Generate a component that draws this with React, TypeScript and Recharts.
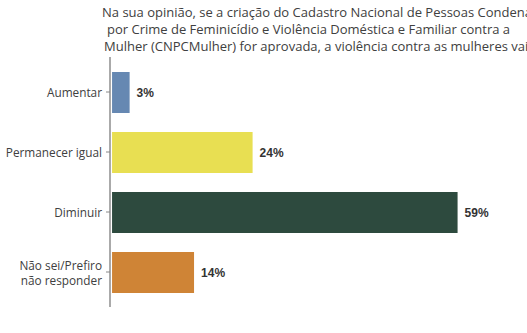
import React from 'react';
import { BarChart, Bar, XAxis, YAxis, Cell, LabelList } from 'recharts';

const categories = ['Aumentar', 'Permanecer igual', 'Diminuir', 'Não sei/Prefiro\nnão responder'];
const values = [3, 24, 59, 14];
const colors = ['#6688B2', '#E8DF52', '#2D4A3E', '#CF8436'];
const titleLines = [
  'Na sua opinião, se a criação do Cadastro Nacional de Pessoas Condenadas',
  'por Crime de Feminicídio e Violência Doméstica e Familiar contra a',
  'Mulher (CNPCMulher) for aprovada, a violência contra as mulheres vai:',
];
const titleX = [102, 107, 104];

const data = categories.map((c, i) => ({ name: c, value: values[i] }));
const FONT = "'Open Sans', sans-serif";

const Tick = (props: any) => {
  const { x, y, payload } = props;
  const lines = String(payload.value).split('\n');
  const lh = 15;
  const y0 = y - ((lines.length - 1) * lh) / 2;
  return (
    <text x={x} y={y0} textAnchor="end" fill="#404040" fontSize={11.8} fontFamily={FONT} dominantBaseline="central">
      {lines.map((l, i) => (
        <tspan key={i} x={x} y={y0 + i * lh} dominantBaseline="central">{l}</tspan>
      ))}
    </text>
  );
};

export default function App() {
  return (
    <div style={{ position: 'absolute', left: 0, top: 0, width: 527, height: 333, overflow: 'hidden', background: '#fff' }}>
      {titleLines.map((t, i) => (
        <div key={i} style={{ position: 'absolute', left: titleX[i], top: 4 + i * 17, whiteSpace: 'nowrap', fontFamily: FONT, fontSize: 13, color: '#404040', lineHeight: '17px' }}>{t}</div>
      ))}
      <BarChart width={527} height={333} data={data} layout="vertical" margin={{ top: 57, right: 5, bottom: 26, left: 0 }}>
        <XAxis type="number" domain={[-0.35, 70]} hide />
        <YAxis
          type="category"
          dataKey="name"
          width={110}
          tick={<Tick />}
          tickSize={4}
          tickMargin={4}
          axisLine={{ stroke: '#AAAAAA', strokeWidth: 2 }}
          tickLine={{ stroke: '#888888' }}
          padding={{ top: 5, bottom: 5 }}
          interval={0}
        />
        <Bar dataKey="value" barSize={41} isAnimationActive={false}>
          {data.map((d, i) => (
            <Cell key={i} fill={colors[i]} />
          ))}
          <LabelList dataKey="value" position="right" offset={7} formatter={(v: any) => `${v}%`} fill="#333" fontSize={12} fontWeight="bold" fontFamily="'Liberation Sans', Arial, sans-serif" />
        </Bar>
      </BarChart>
    </div>
  );
}
